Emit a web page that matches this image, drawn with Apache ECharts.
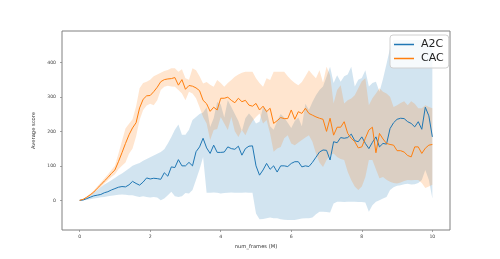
<!DOCTYPE html>
<html>
<head>
<meta charset="utf-8">
<script src="https://cdn.jsdelivr.net/npm/echarts@6/dist/echarts.min.js"></script>
<style>html,body{margin:0;padding:0;background:#fff;}#c{width:500px;height:259px;}</style>
</head>
<body>
<div id="c"></div>
<script>
const frames = [0,0.1,0.2,0.3,0.4,0.5,0.6,0.7,0.8,0.9,1,1.1,1.2,1.3,1.4,1.5,1.6,1.7,1.8,1.9,2,2.1,2.2,2.3,2.4,2.5,2.6,2.7,2.8,2.9,3,3.1,3.2,3.3,3.4,3.5,3.6,3.7,3.8,3.9,4,4.1,4.2,4.3,4.4,4.5,4.6,4.7,4.8,4.9,5,5.1,5.2,5.3,5.4,5.5,5.6,5.7,5.8,5.9,6,6.1,6.2,6.3,6.4,6.5,6.6,6.7,6.8,6.9,7,7.1,7.2,7.3,7.4,7.5,7.6,7.7,7.8,7.9,8,8.1,8.2,8.3,8.4,8.5,8.6,8.7,8.8,8.9,9,9.1,9.2,9.3,9.4,9.5,9.6,9.7,9.8,9.9,10];

const a2cMean = [0,1,5,9,13,15,17,22,25,30,34,38,40,39,45,55,49,44,53,65,62,64,63,61,80,70,97,95,118,100,100,110,100,141,155,180,152,136,160,139,139,140,155,150,148,157,131,150,157,158,100,73,88,107,90,100,82,100,100,98,107,112,112,97,100,98,110,125,140,146,145,117,170,167,182,180,182,192,173,170,184,165,150,168,184,155,165,163,208,225,235,238,237,228,223,213,228,206,270,245,184];
const a2cUpper = [0,2,8,15,22,30,38,46,52,58,65,72,78,85,92,100,105,108,115,120,125,130,135,140,148,165,184,205,220,190,190,205,233,242,250,255,270,213,238,285,278,240,290,271,250,230,200,238,252,240,223,228,271,262,215,205,230,250,240,225,210,230,240,215,280,262,285,305,320,330,358,387,340,363,344,360,365,387,330,350,355,377,330,340,344,315,352,395,440,465,465,465,465,465,465,465,465,465,465,462,455];
const a2cLower = [0,0,1,3,5,7,9,10,12,13,15,16,17,16,15,15,12,10,12,10,8,10,8,0,5,15,25,12,10,12,21,20,30,60,90,126,22,22,23,22,20,21,22,23,22,22,22,23,22,22,-38,-55,-54,-52,-50,-52,-52,-55,-56,-57,-57,-57,-55,-53,-52,-52,-50,-40,-33,-33,-34,-35,-9,-4,-4,-5,-4,-4,-4,-5,-5,-6,-33,-14,-4,0,5,10,30,38,42,44,47,48,46,47,50,59,88,60,5];

const cacMean = [0,3,9,16,24,35,45,56,66,78,88,112,138,165,190,210,225,268,293,303,304,315,328,344,350,352,353,356,334,350,322,333,331,326,318,290,280,258,270,262,296,296,299,290,283,296,286,290,276,273,281,262,273,257,267,223,231,240,237,237,262,235,257,252,267,252,247,242,238,235,200,238,189,212,212,228,194,180,170,152,155,180,204,212,138,194,178,165,162,160,144,144,140,130,126,155,155,136,151,160,162];
const cacUpper = [0,4,11,19,28,40,52,63,75,88,100,135,172,208,222,235,272,325,340,344,350,360,365,370,375,378,383,383,373,380,354,350,383,377,360,339,343,335,329,349,340,329,340,349,358,365,370,373,373,373,354,340,329,354,349,373,373,373,373,360,349,340,334,343,360,377,365,354,377,342,387,363,281,320,334,281,290,295,305,325,345,354,276,296,310,325,315,310,300,271,276,282,287,276,287,280,267,267,276,271,267];
const cacLower = [0,2,7,13,20,30,38,49,58,68,76,90,100,110,135,150,185,233,262,275,280,276,290,320,329,332,330,329,320,310,290,315,310,296,270,242,223,175,204,207,242,223,204,242,200,184,204,189,213,230,242,252,223,233,194,141,150,155,180,189,165,160,168,175,182,189,170,136,110,97,117,131,136,126,120,117,83,59,40,30,40,68,117,117,90,64,68,60,54,50,49,52,56,59,58,59,59,50,36,40,45];

const seriesNames = ['A2C', 'CAC'];
const xTicks = [0, 2, 4, 6, 8, 10];
const yTicks = [0, 100, 200, 300, 400];

const colors = ['#1f77b4', '#ff7f0e'];
const fills = ['rgba(31,119,180,0.2)', 'rgba(255,127,14,0.2)'];

const groups = [
  {name: seriesNames[0], mean: a2cMean, up: a2cUpper, lo: a2cLower},
  {name: seriesNames[1], mean: cacMean, up: cacUpper, lo: cacLower}
];

const series = [];
groups.forEach((g, k) => {
  series.push({
    name: g.name + ' band', type: 'custom', silent: true, z: 1, clip: true,
    data: frames.map((f, i) => [f, g.lo[i], g.up[i]]),
    encode: {x: 0, y: [1, 2]},
    renderItem: function (params, api) {
      if (params.dataIndex !== 0) return null;
      const pts = [];
      for (let i = 0; i < frames.length; i++) pts.push(api.coord([frames[i], g.up[i]]));
      for (let i = frames.length - 1; i >= 0; i--) pts.push(api.coord([frames[i], g.lo[i]]));
      return {type: 'polygon', shape: {points: pts}, style: {fill: fills[k], stroke: null}};
    }
  });
});
groups.forEach((g, k) => {
  series.push({
    name: g.name, type: 'line', data: frames.map((f, i) => [f, g.mean[i]]), symbol: 'none',
    lineStyle: {color: colors[k], width: 1}, itemStyle: {color: colors[k]}, z: 3
  });
});

const chart = echarts.init(document.getElementById('c'), null, {renderer: 'canvas'});
chart.setOption({
  animation: false,
  backgroundColor: '#fff',
  textStyle: {fontFamily: 'DejaVu Sans'},
  grid: {left: 62, right: 50, top: 31, bottom: 29, show: true, borderColor: '#808080', borderWidth: 1, backgroundColor: 'transparent'},
  xAxis: {
    type: 'value', min: -0.5, max: 10.5,
    name: 'num_frames (M)', nameLocation: 'middle', nameGap: 8,
    nameTextStyle: {fontSize: 5.2, color: '#333', fontFamily: 'DejaVu Sans'},
    axisLine: {show: false, onZero: false},
    splitLine: {show: false},
    axisTick: {show: true, length: 2, customValues: xTicks, lineStyle: {color: '#808080', width: 0.7}},
    axisLabel: {customValues: xTicks, fontSize: 4.6, color: '#444', margin: 4, fontFamily: 'DejaVu Sans'}
  },
  yAxis: {
    type: 'value', min: -86, max: 491,
    name: 'Average score', nameLocation: 'middle', nameGap: 14, nameRotate: 90,
    nameTextStyle: {fontSize: 5.2, color: '#333', fontFamily: 'DejaVu Sans'},
    axisLine: {show: false, onZero: false},
    splitLine: {show: false},
    axisTick: {show: true, length: 2, customValues: yTicks, lineStyle: {color: '#808080', width: 0.7}},
    axisLabel: {customValues: yTicks, fontSize: 4.6, color: '#444', margin: 6, fontFamily: 'DejaVu Sans'}
  },
  legend: {
    data: seriesNames, orient: 'vertical', left: 390, top: 35,
    icon: 'rect', itemWidth: 20, itemHeight: 1.5, itemGap: 3,
    padding: [4, 5, 4, 4],
    borderColor: '#d0d0d0', borderWidth: 1, borderRadius: 3,
    backgroundColor: 'rgba(255,255,255,0.8)',
    textStyle: {fontSize: 11, color: '#222', fontFamily: 'DejaVu Sans', padding: [0, 0, 0, 2]}
  },
  series: series
});
</script>
</body>
</html>
